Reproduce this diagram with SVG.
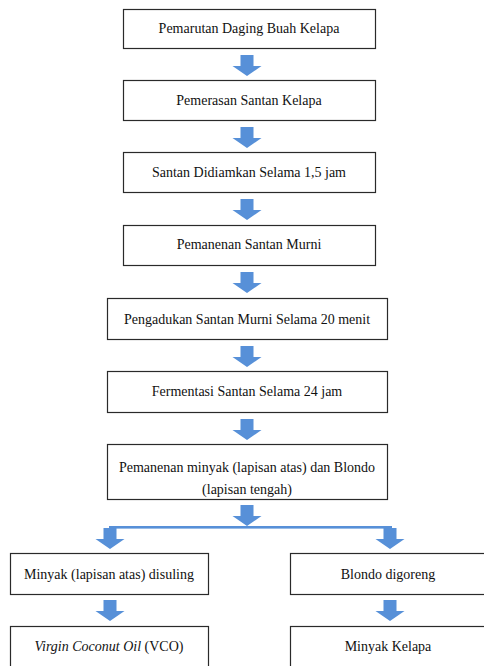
<svg xmlns="http://www.w3.org/2000/svg" xmlns:xlink="http://www.w3.org/1999/xlink" width="484" height="666" viewBox="0 0 484 666">
<style>
.box{fill:#fff;stroke:#2a2a2a;stroke-width:1.2}
.t{font-family:'Liberation Serif','Times New Roman',serif;font-size:14px;fill:#111;text-anchor:middle}
.arr{fill:#5790d8}
</style>
<defs>
<polygon id="ar" points="-6.5,0 6.5,0 6.5,11 14.5,11 0,21 -14.5,11 -6.5,11"/>
</defs>
<rect width="484" height="666" fill="#fff"/>
<g id="connectors" class="arr">
<use xlink:href="#ar" x="247" y="55"/>
<use xlink:href="#ar" x="247" y="127"/>
<use xlink:href="#ar" x="247" y="199"/>
<use xlink:href="#ar" x="247" y="272"/>
<use xlink:href="#ar" x="247" y="346"/>
<use xlink:href="#ar" x="247" y="419"/>
<use xlink:href="#ar" x="247" y="505"/>
<rect x="109" y="526" width="283" height="2.6"/>
<use xlink:href="#ar" x="110" y="528"/>
<use xlink:href="#ar" x="390" y="528"/>
<use xlink:href="#ar" x="110" y="600"/>
<use xlink:href="#ar" x="390" y="600"/>
</g>
<g id="n1"><rect class="box" x="123.5" y="9.5" width="252" height="39"/><text class="t" x="249" y="33">Pemarutan Daging Buah Kelapa</text></g>
<g id="n2"><rect class="box" x="123.5" y="80.5" width="252" height="40"/><text class="t" x="249" y="105">Pemerasan Santan Kelapa</text></g>
<g id="n3"><rect class="box" x="123.5" y="152.5" width="252" height="40"/><text class="t" x="249" y="177">Santan Didiamkan Selama 1,5 jam</text></g>
<g id="n4"><rect class="box" x="123.5" y="225.5" width="252" height="40"/><text class="t" x="249" y="249">Pemanenan Santan Murni</text></g>
<g id="n5"><rect class="box" x="107.5" y="298.5" width="280" height="41"/><text class="t" x="247" y="324">Pengadukan Santan Murni Selama 20 menit</text></g>
<g id="n6"><rect class="box" x="107.5" y="371.5" width="280" height="41"/><text class="t" x="247" y="396">Fermentasi Santan Selama 24 jam</text></g>
<g id="n7"><rect class="box" x="107.5" y="444.5" width="280" height="55"/><text class="t" x="247" y="472">Pemanenan minyak (lapisan atas) dan Blondo</text><text class="t" x="247" y="494">(lapisan tengah)</text></g>
<g id="n8"><rect class="box" x="10.5" y="553.5" width="198" height="41"/><text class="t" x="109" y="579">Minyak (lapisan atas) disuling</text></g>
<g id="n9"><rect class="box" x="290.5" y="553.5" width="200" height="41"/><text class="t" x="388" y="579">Blondo digoreng</text></g>
<g id="n10"><rect class="box" x="10.5" y="626.5" width="198" height="50"/><text class="t" x="109" y="651"><tspan font-style="italic">Virgin Coconut Oil</tspan> (VCO)</text></g>
<g id="n11"><rect class="box" x="290.5" y="626.5" width="200" height="50"/><text class="t" x="388" y="651">Minyak Kelapa</text></g>
</svg>
